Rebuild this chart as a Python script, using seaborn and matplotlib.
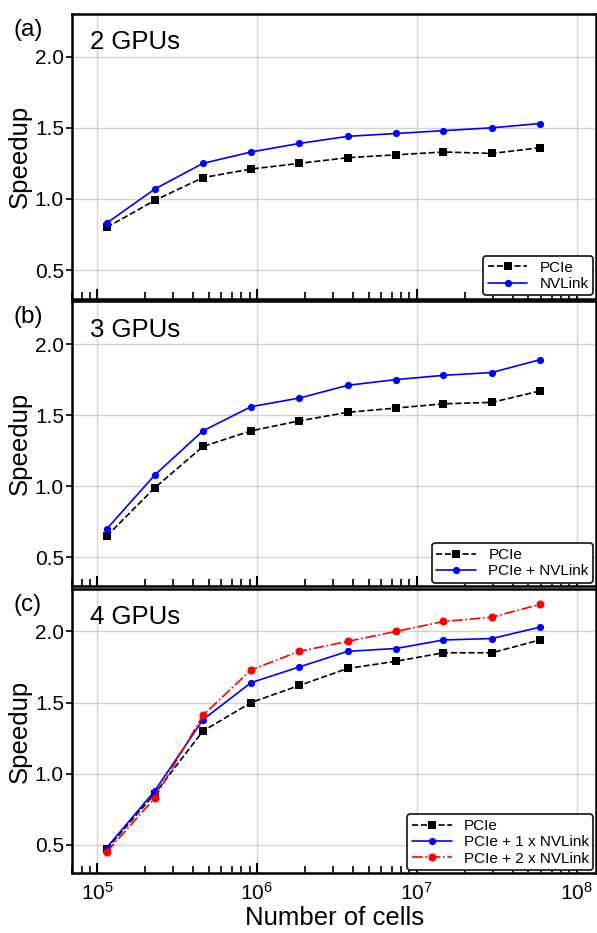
import matplotlib
matplotlib.use("Agg")
import matplotlib.pyplot as plt
import seaborn as sns
from matplotlib.ticker import LogLocator, NullFormatter

# --------------------------------------------------
# DATA
# --------------------------------------------------
cells = [1.15e5, 2.3e5, 4.6e5, 9.2e5, 1.84e6, 3.7e6, 7.4e6, 1.47e7, 2.95e7, 5.9e7]

# 2 GPUs
pcie_2 = [0.80, 0.99, 1.15, 1.21, 1.25, 1.29, 1.31, 1.33, 1.32, 1.36]
nvlink_2 = [0.83, 1.07, 1.25, 1.33, 1.39, 1.44, 1.46, 1.48, 1.50, 1.53]

# 3 GPUs
pcie_3 = [0.65, 0.99, 1.28, 1.39, 1.46, 1.52, 1.55, 1.58, 1.59, 1.67]
nvlink_3 = [0.70, 1.08, 1.39, 1.56, 1.62, 1.71, 1.75, 1.78, 1.80, 1.89]

# 4 GPUs
pcie_4 = [0.47, 0.86, 1.30, 1.50, 1.62, 1.74, 1.79, 1.85, 1.85, 1.94]
nvlink1_4 = [0.48, 0.88, 1.38, 1.64, 1.75, 1.86, 1.88, 1.94, 1.95, 2.03]
nvlink2_4 = [0.45, 0.83, 1.41, 1.73, 1.86, 1.93, 2.00, 2.07, 2.10, 2.19]

panel_tags = ["(a)", "(b)", "(c)"]
panel_titles = ["2 GPUs", "3 GPUs", "4 GPUs"]

# --------------------------------------------------
# STYLE
# --------------------------------------------------
sns.set_theme(style="ticks")
plt.rcParams["font.family"] = ["Liberation Sans", "DejaVu Sans"]
for key in ["text.color", "axes.labelcolor", "xtick.color", "ytick.color"]:
    plt.rcParams[key] = "black"

black = dict(color="black", marker="s", linestyle="--", markersize=5.5, linewidth=1.2)
blue = dict(color="blue", marker="o", linestyle="-", markersize=5.2, linewidth=1.2)
red = dict(color="red", marker="o", linestyle="-.", markersize=5.8, linewidth=1.2)

fig, axes = plt.subplots(3, 1, figsize=(5.97, 9.33), dpi=100, sharex=True,
                         gridspec_kw=dict(hspace=0.01))
fig.subplots_adjust(left=0.121, right=0.999, top=0.985, bottom=0.064)

series = [
    [(pcie_2, "PCIe", black), (nvlink_2, "NVLink", blue)],
    [(pcie_3, "PCIe", black), (nvlink_3, "PCIe + NVLink", blue)],
    [(pcie_4, "PCIe", black), (nvlink1_4, "PCIe + 1 x NVLink", blue),
     (nvlink2_4, "PCIe + 2 x NVLink", red)],
]

for ax, tag, title, lines in zip(axes, panel_tags, panel_titles, series):
    for vals, lab, st in lines:
        sns.lineplot(x=cells, y=vals, ax=ax, label=lab,
                     markeredgewidth=0, **st)

    ax.set_xscale("log")
    ax.set_xlim(7e4, 1.33e8)
    ax.set_ylim(0.3, 2.3)
    ax.set_yticks([0.5, 1.0, 1.5, 2.0])
    ax.xaxis.set_major_locator(LogLocator(base=10, numticks=10))
    ax.xaxis.set_minor_locator(LogLocator(base=10, subs=range(2, 10), numticks=20))
    ax.xaxis.set_minor_formatter(NullFormatter())

    ax.grid(True, which="major", color="#d3d3d3", linewidth=1.0)
    ax.set_axisbelow(True)

    for sp in ax.spines.values():
        sp.set_linewidth(1.8)
        sp.set_color("black")

    ax.tick_params(axis="x", which="major", direction="in", length=7, width=1.5,
                   labelsize=15, pad=6)
    ax.tick_params(axis="x", which="minor", direction="in", length=5, width=1.2)
    ax.tick_params(axis="y", direction="out", length=4, width=1.2, labelsize=15,
                   pad=2)

    ax.set_ylabel("Speedup", fontsize=18.5, labelpad=2)
    ax.text(-0.112, 0.944, tag, transform=ax.transAxes, fontsize=17.5,
            ha="left", va="center")
    ax.text(0.034, 0.90, title, transform=ax.transAxes, fontsize=18.5,
            ha="left", va="center")

    leg = ax.legend(loc="lower right", fontsize=11, frameon=True, fancybox=True,
                    handlelength=2.6, borderpad=0.3, labelspacing=0.15,
                    borderaxespad=0.2)
    leg.get_frame().set_edgecolor("#222222")
    leg.get_frame().set_linewidth(1.3)
    leg.get_frame().set_alpha(1)

axes[-1].set_xlabel("Number of cells", fontsize=18.5, labelpad=2)

plt.savefig("out.png", dpi=100)
